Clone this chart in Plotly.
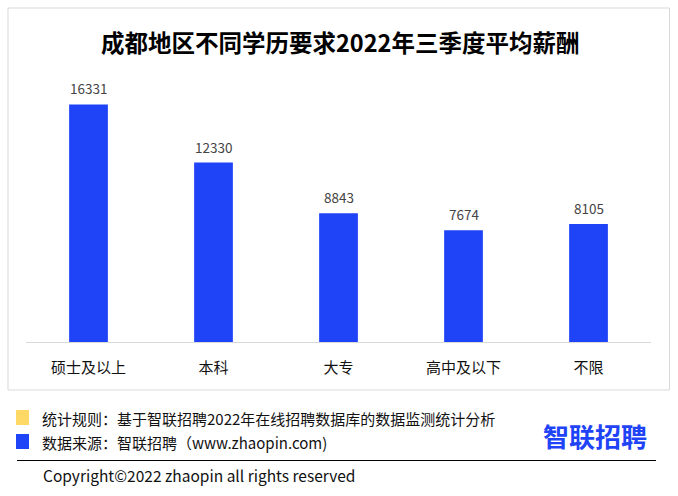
import plotly.graph_objects as go

categories = ["硕士及以上", "本科", "大专", "高中及以下", "不限"]
salaries = [16331, 12330, 8843, 7674, 8105]
value_labels = [str(v) for v in salaries]

title_text = "成都地区不同学历要求2022年三季度平均薪酬"
rule_text = "统计规则：基于智联招聘2022年在线招聘数据库的数据监测统计分析"
source_text = "数据来源：智联招聘（www.zhaopin.com)"
copyright_text = "Copyright©2022 zhaopin all rights reserved"
logo_text = "智联招聘"

W, H = 678, 496
BLUE = "#1f43f7"
FONT = "Noto Sans CJK SC"

plot_l, plot_r, plot_t, plot_b = 26, 651, 51, 342
PW = plot_r - plot_l
PH = plot_b - plot_t


def px_x(p):
    return (p - plot_l) / PW


def px_y(p):
    return (plot_b - p) / PH


fig = go.Figure()
fig.add_trace(go.Bar(
    x=categories, y=salaries, marker=dict(color=BLUE, line=dict(width=0)),
    width=0.31, hoverinfo="skip",
))

for c, v, t in zip(categories, salaries, value_labels):
    fig.add_annotation(x=c, y=v, text=t, showarrow=False, yanchor="bottom",
                       yshift=4, font=dict(family=FONT, size=13.5, color="#444444"))

fig.update_layout(
    width=W, height=H,
    margin=dict(l=plot_l, r=W - plot_r, t=plot_t, b=H - plot_b),
    paper_bgcolor="white", plot_bgcolor="white",
    showlegend=False,
    font=dict(family=FONT),
)
fig.update_xaxes(showline=True, linecolor="#d9d9d9", linewidth=1, showgrid=False,
                 ticks="", ticklabelstandoff=12,
                 tickfont=dict(family=FONT, size=15, color="#111111"))
fig.update_yaxes(range=[0, 20000], visible=False, showgrid=False)

shapes = []
shapes.append(dict(type="rect", xref="paper", yref="paper",
                   x0=px_x(8), x1=px_x(669.5), y0=px_y(390), y1=px_y(8),
                   line=dict(color="#d9d9d9", width=1), fillcolor="rgba(0,0,0,0)", layer="below"))
shapes.append(dict(type="rect", xref="paper", yref="paper",
                   x0=px_x(16), x1=px_x(29), y0=px_y(425), y1=px_y(410),
                   line=dict(width=0), fillcolor="#ffd966"))
shapes.append(dict(type="rect", xref="paper", yref="paper",
                   x0=px_x(16), x1=px_x(29), y0=px_y(449), y1=px_y(434),
                   line=dict(width=0), fillcolor=BLUE))
shapes.append(dict(type="line", xref="paper", yref="paper",
                   x0=px_x(17), x1=px_x(656), y0=px_y(460.5), y1=px_y(460.5),
                   line=dict(color="#000000", width=1)))
fig.update_layout(shapes=shapes)

fig.add_annotation(xref="paper", yref="paper", x=px_x(340), y=px_y(42),
                   text="<b>" + title_text + "</b>", showarrow=False,
                   xanchor="center", yanchor="middle",
                   font=dict(family=FONT, size=23.5, color="#000000"))
fig.add_annotation(xref="paper", yref="paper", x=px_x(40), y=px_y(418),
                   text=rule_text, showarrow=False, xanchor="left", yanchor="middle",
                   font=dict(family=FONT, size=15, color="#111111"))
fig.add_annotation(xref="paper", yref="paper", x=px_x(40), y=px_y(442),
                   text=source_text, showarrow=False, xanchor="left", yanchor="middle",
                   font=dict(family=FONT, size=15, color="#111111"))
fig.add_annotation(xref="paper", yref="paper", x=px_x(41), y=px_y(475),
                   text=copyright_text, showarrow=False, xanchor="left", yanchor="middle",
                   font=dict(family=FONT, size=15.5, color="#111111"))
fig.add_annotation(xref="paper", yref="paper", x=px_x(595), y=px_y(435),
                   text="<b>" + logo_text + "</b>", showarrow=False,
                   xanchor="center", yanchor="middle",
                   font=dict(family=FONT, size=26, color=BLUE))

fig.write_html("out.html", config={"displayModeBar": False},
               post_script="document.body.style.margin='0';")
